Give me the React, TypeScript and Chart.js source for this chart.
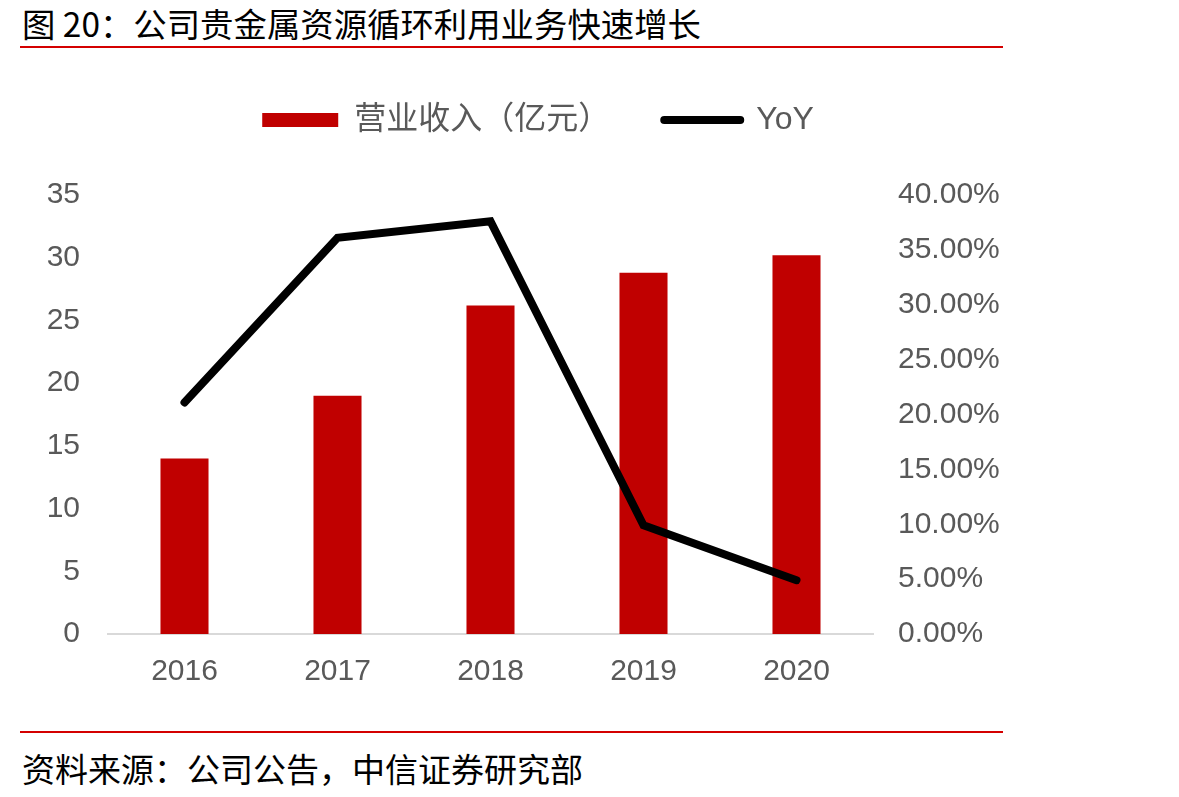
import React, { useEffect, useRef } from "react";
import { Chart, registerables } from "chart.js";

Chart.register(...registerables);

const categories = ["2016", "2017", "2018", "2019", "2020"];
const revenue = [14.0, 19.0, 26.2, 28.8, 30.2];
const yoy = [21.1, 36.1, 37.6, 9.9, 4.9];
const revenueTickLabels = ["0", "5", "10", "15", "20", "25", "30", "35"];
const yoyTickLabels = ["0.00%", "5.00%", "10.00%", "15.00%", "20.00%", "25.00%", "30.00%", "35.00%", "40.00%"];
const seriesNames = ["营业收入（亿元）", "YoY"];
const titleText = "图 20：公司贵金属资源循环利用业务快速增长";
const sourceText = "资料来源：公司公告，中信证券研究部";

const FONT = '"Liberation Sans", Arial, "Noto Sans CJK SC", sans-serif';
const GREY = "#595959";
const BAR_RED = "#c00000";
const LINE_RED = "#d40000";

const CANVAS_W = 1076;
const CANVAS_H = 654;

export default function App() {
  const ref = useRef<HTMLCanvasElement | null>(null);

  useEffect(() => {
    if (!ref.current) return;
    const chart = new Chart(ref.current, {
      type: "bar",
      data: {
        labels: categories,
        datasets: [
          {
            type: "bar",
            label: seriesNames[0],
            data: revenue,
            backgroundColor: BAR_RED,
            borderWidth: 0,
            yAxisID: "y",
            order: 2,
            barPercentage: 0.314,
            categoryPercentage: 1,
          } as any,
          {
            type: "line",
            label: seriesNames[1],
            data: yoy,
            borderColor: "#000000",
            backgroundColor: "#000000",
            borderWidth: 8,
            pointRadius: 0,
            pointHoverRadius: 0,
            tension: 0,
            borderCapStyle: "round",
            yAxisID: "y1",
            order: 1,
          } as any,
        ],
      },
      options: {
        responsive: false,
        animation: false,
        layout: { padding: { top: 0, left: 0, right: 0, bottom: 0 } },
        plugins: {
          tooltip: { enabled: false },
          legend: {
            display: true,
            position: "top",
            labels: {
              usePointStyle: true,
              pointStyleWidth: 76,
              boxHeight: 14,
              padding: 54,
              color: GREY,
              font: { size: 32, family: FONT },
              sort: (a: any, b: any) => a.datasetIndex - b.datasetIndex,
              generateLabels: (c: any) => {
                const items = (Chart as any).defaults.plugins.legend.labels.generateLabels(c);
                items.forEach((it: any) => {
                  if (it.datasetIndex === 0) {
                    it.pointStyle = "rect";
                    it.lineWidth = 0;
                    it.fillStyle = BAR_RED;
                    it.strokeStyle = BAR_RED;
                  } else {
                    it.pointStyle = "line";
                    it.lineWidth = 8;
                    it.lineCap = "round";
                    it.strokeStyle = "#000000";
                  }
                  it.fontColor = GREY;
                });
                return items;
              },
            },
          },
          subtitle: {
            display: true,
            text: "",
            position: "top",
            weight: 500,
            padding: 0,
            font: { size: 49, lineHeight: 1 },
          } as any,
          title: { display: false },
        },
        scales: {
          x: {
            grid: { display: false, drawTicks: false },
            border: { display: true, color: "#d9d9d9", width: 2 },
            ticks: { color: GREY, font: { size: 30, family: FONT }, padding: 20 },
            afterFit: (s: any) => {
              s.height = 70;
            },
          },
          y: {
            position: "left",
            min: 0,
            max: 35,
            grid: { display: false, drawTicks: false },
            border: { display: false },
            ticks: {
              stepSize: 5,
              color: GREY,
              font: { size: 30, family: FONT },
              padding: 28,
              callback: (_v: any, i: number) => revenueTickLabels[i],
            },
            afterFit: (s: any) => {
              s.width = 108;
            },
          },
          y1: {
            position: "right",
            min: 0,
            max: 40,
            grid: { display: false, drawTicks: false },
            border: { display: false },
            ticks: {
              stepSize: 5,
              color: GREY,
              font: { size: 30, family: FONT },
              padding: 25,
              callback: (_v: any, i: number) => yoyTickLabels[i],
            },
            afterFit: (s: any) => {
              s.width = CANVAS_W - 873;
            },
          },
        },
      } as any,
    });
    return () => chart.destroy();
  }, []);

  return (
    <div
      style={{
        position: "absolute",
        left: 0,
        top: 0,
        width: 1179,
        height: 797,
        background: "#ffffff",
        overflow: "hidden",
      }}
    >
      <div
        style={{
          position: "absolute",
          left: 22,
          top: 4,
          fontSize: 33.4,
          lineHeight: "38px",
          fontFamily: '"Noto Sans CJK SC", sans-serif',
          color: "#000",
          whiteSpace: "nowrap",
        }}
      >
        {titleText}
      </div>
      <div style={{ position: "absolute", left: 20, top: 46, width: 983, height: 2, background: LINE_RED }} />
      <canvas
        ref={ref}
        width={CANVAS_W}
        height={CANVAS_H}
        style={{ position: "absolute", left: 0, top: 50, width: CANVAS_W, height: CANVAS_H }}
      />
      <div style={{ position: "absolute", left: 20, top: 731, width: 983, height: 2, background: LINE_RED }} />
      <div
        style={{
          position: "absolute",
          left: 22,
          top: 749,
          fontSize: 33,
          lineHeight: "38px",
          fontFamily: '"Noto Sans CJK SC", sans-serif',
          color: "#000",
          whiteSpace: "nowrap",
        }}
      >
        {sourceText}
      </div>
    </div>
  );
}
